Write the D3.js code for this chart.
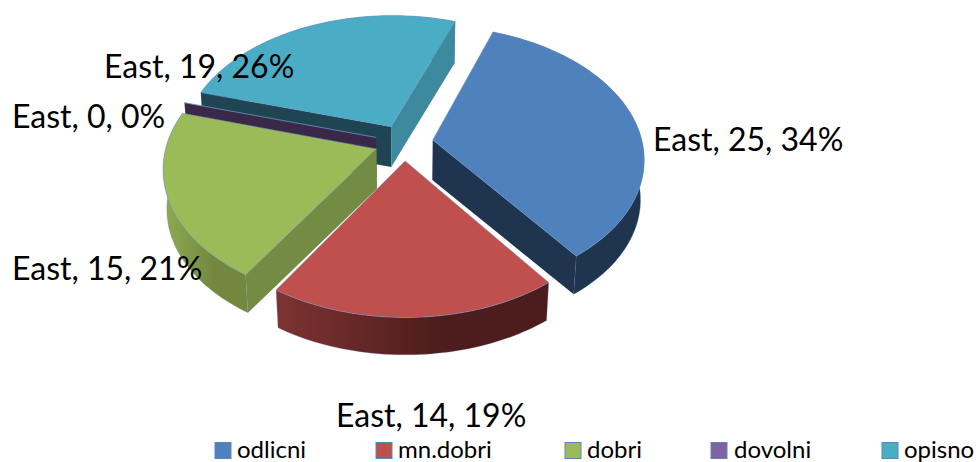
<!DOCTYPE html>
<html>
<head>
<meta charset="utf-8">
<script src="https://cdn.jsdelivr.net/npm/d3@7"></script>
<style>
html, body { margin: 0; padding: 0; background: #fff; }
text { font-family: Lato, "Open Sans", sans-serif; fill: #000; }
</style>
</head>
<body>
<div id="chart"></div>
<script>
//Datos
const categories = ['odlicni', 'mn.dobri', 'dobri', 'dovolni', 'opisno'];
const values = [25, 14, 15, 0, 19];
const seriesName = 'East';

//Colores fijos
const topColors = ['#4F81BD', '#C0504D', '#9BBB59', '#8064A2', '#4BACC6'];
const startWall = ['#1F344F', '#4C1D1C', '#748B43', '#3A2848', '#1F4553'];
const endWall = ['#1F344F', '#4C1D1C', '#748B43', '#3A2848', '#3D8A9F'];
const outerFrom = ['#1F344F', '#7E3331', '#8FAB52', '#3A2848', '#3D8A9F'];
const outerTo = ['#1F344F', '#4C1D1C', '#72883F', '#3A2848', '#3D8A9F'];
const EDGE = '#6B93C4';

//Posicion de etiquetas y leyenda
const labelX = [653, 336, 12, 12, 104];
const labelY = [151, 427, 280, 128, 78];
const legendSwatchX = [215, 376, 565, 711, 882];
const legendTextX = [237, 398, 587, 734, 904];

let width = 976, height = 462;
let cx = 404, cy = 142.5;
let radiusX = 209.5, radiusY = 130;
let persp = 0.135, explode = 0.139, depth = 40;

let svg = d3.select('#chart').append('svg')
    .attr('width', width)
    .attr('height', height)
    .style('display', 'block');

let x = d3.scaleLinear().domain([-1, 1]).range([cx - radiusX, cx + radiusX]);
let y = d3.scaleLinear().domain([-1, 1]).range([cy - radiusY, cy + radiusY]);

//Proyeccion en perspectiva: h = 0 cara superior, h = 1 cara inferior
function project(u, v, h) {
    let s = 1 / (1 - persp * v) * (1 - 0.015 * h);
    return [x(u * s), y(v * s) + depth * h];
}

let pie = d3.pie()
    .sort(null)
    .startAngle(20 * Math.PI / 180)
    .endAngle(380 * Math.PI / 180);

let arcs = pie(values);
let total = d3.sum(values);
let line = d3.line();
let defs = svg.append('defs');

function slicePoints(d) {
    let mid = (d.startAngle + d.endAngle) / 2;
    let ox = explode * Math.sin(mid), oy = -explode * Math.cos(mid);
    let steps = Math.max(1, Math.round((d.endAngle - d.startAngle) * 40));
    let rim = d3.range(steps + 1).map(function(i) {
        let a = d.startAngle + (d.endAngle - d.startAngle) * i / steps;
        return [ox + Math.sin(a), oy - Math.cos(a)];
    });
    return { apex: [ox, oy], rim: rim };
}

function wall(a, b) {
    return [project(a[0], a[1], 0), project(b[0], b[1], 0), project(b[0], b[1], 1), project(a[0], a[1], 1)];
}

//La pared recta solo se ve si la cara superior queda por encima de ella
function wallVisible(p, end) {
    let a = project(p.apex[0], p.apex[1], 0);
    let b = project(end[0], end[1], 0);
    let m = p.rim[Math.floor(p.rim.length / 2)];
    let c = project(m[0], m[1], 0);
    let ex = b[0] - a[0], ey = b[1] - a[1];
    return ex * (c[1] - a[1]) - ey * (c[0] - a[0]) < 0 === ex > 0;
}

//Orden de pintado: de atras hacia delante
let order = [4, 3, 2, 0, 1];

order.forEach(function(i) {
    let p = slicePoints(arcs[i]);
    let g = svg.append('g').attr('class', 'slice slice-' + i);
    let gradId = 'outer-' + i;
    let first = p.rim[0], last = p.rim[p.rim.length - 1];

    let grad = defs.append('linearGradient').attr('id', gradId);
    grad.append('stop').attr('offset', '0%').attr('stop-color', outerFrom[i]);
    grad.append('stop').attr('offset', '60%').attr('stop-color', outerTo[i]);

    if (values[i] > 0) {
        let outer = p.rim.map(function(q) { return project(q[0], q[1], 0); })
            .concat(p.rim.slice().reverse().map(function(q) { return project(q[0], q[1], 1); }));
        g.append('path')
            .attr('d', line(outer) + 'Z')
            .attr('fill', 'url(#' + gradId + ')')
            .attr('stroke', EDGE)
            .attr('stroke-opacity', 0.45)
            .attr('stroke-width', 0.6);
    }

    if (values[i] === 0 || wallVisible(p, first)) {
        g.append('path')
            .attr('d', line(wall(p.apex, first)) + 'Z')
            .attr('fill', startWall[i]);
    }
    if (values[i] > 0 && wallVisible(p, last)) {
        g.append('path')
            .attr('d', line(wall(p.apex, last)) + 'Z')
            .attr('fill', endWall[i]);
    }

    let top = [p.apex].concat(p.rim).map(function(q) { return project(q[0], q[1], 0); });
    g.append('path')
        .attr('d', line(top) + 'Z')
        .attr('fill', topColors[i])
        .attr('stroke', EDGE)
        .attr('stroke-width', 0.5);
});

//Etiquetas
svg.append('g').selectAll('text')
    .data(values)
    .enter()
    .append('text')
    .attr('x', function(d, i) { return labelX[i]; })
    .attr('y', function(d, i) { return labelY[i]; })
    .attr('font-size', 32)
    .text(function(d) { return seriesName + ', ' + d + ', ' + Math.round(d / total * 100) + '%'; });

//Leyenda
let legend = svg.append('g').selectAll('g')
    .data(categories)
    .enter()
    .append('g');

legend.append('rect')
    .attr('x', function(d, i) { return legendSwatchX[i]; })
    .attr('y', 442.5)
    .attr('width', 16)
    .attr('height', 16)
    .attr('fill', function(d, i) { return topColors[i]; })
    .attr('stroke', '#5B86BD')
    .attr('stroke-width', 1);

legend.append('text')
    .attr('x', function(d, i) { return legendTextX[i]; })
    .attr('y', 458)
    .attr('font-size', 24)
    .text(function(d) { return d; });
</script>
</body>
</html>
